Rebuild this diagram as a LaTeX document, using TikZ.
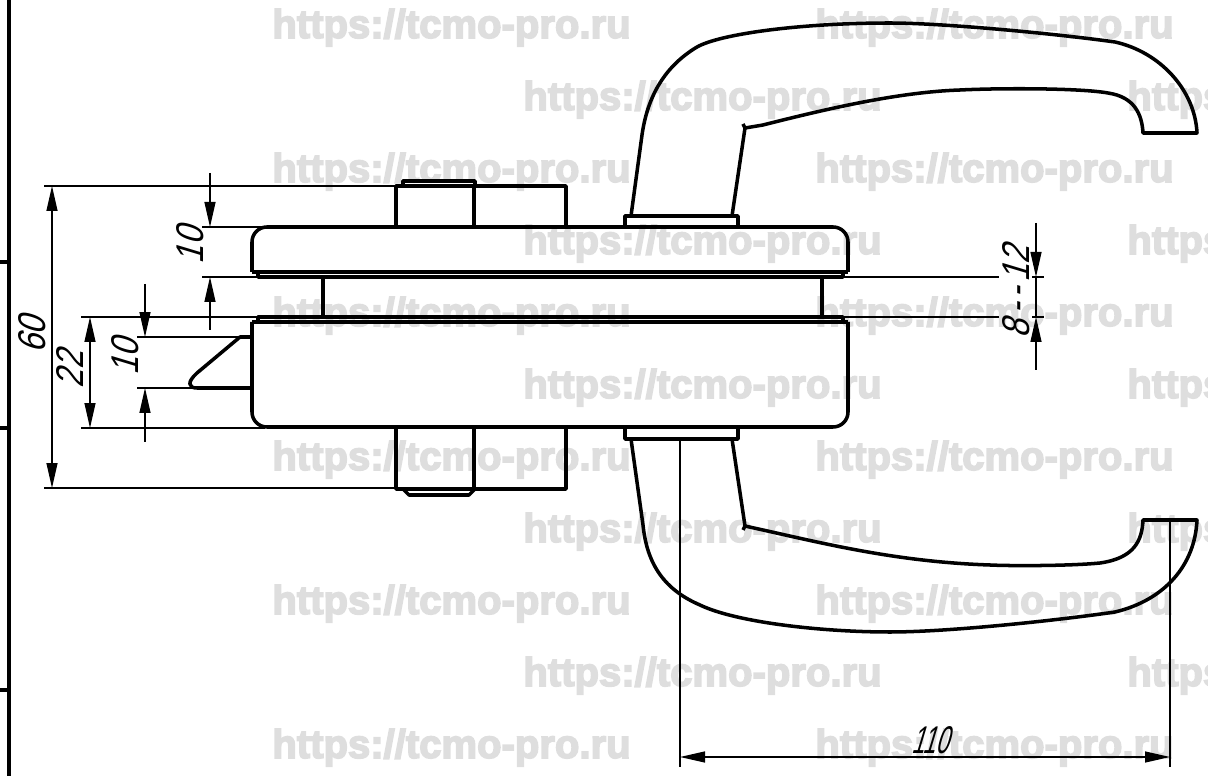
\documentclass[tikz,border=0pt]{standalone}
\usepackage{fontspec}
\usepackage{tikz}
\usetikzlibrary{arrows.meta}
\newfontfamily\dimfont[FakeStretch=0.85,FakeSlant=0.3]{Liberation Sans}
\newfontfamily\narrowfont[FakeStretch=0.6,FakeSlant=0.3]{Liberation Sans}
\newfontfamily\markfont[FakeBold=4]{Liberation Sans}
\definecolor{markgray}{HTML}{DEDEDE}
\begin{document}
\begin{tikzpicture}[
		x=0.02cm,y=-0.02cm,
		>={Stealth[length=5mm,width=2.2mm,inset=0pt]},
		thickline/.style={line width=2pt,line join=round},
		dimline/.style={line width=0.7pt},
		dimtext/.style={inner sep=0pt,font=\dimfont\fontsize{22}{22}\selectfont},
		marktext/.style={anchor=base west,inner sep=0pt,text=markgray,font=\markfont\bfseries\fontsize{22.8}{23}\selectfont}
		]
		\useasboundingbox (0,0) rectangle (1208,776);
		\clip (0,0) rectangle (1208,776);

		% watermark rows
		\foreach \row/\ypos in {1/38,3/182,5/326,7/470,9/614,11/758}{
			\node[marktext] (M\row a) at (272,\ypos) {https://tcmo-pro.ru};
			\node[marktext] (M\row b) at (815,\ypos) {https://tcmo-pro.ru};
		}
		\foreach \row/\ypos in {2/110,4/254,6/398,8/542,10/686}{
			\node[marktext] (M\row a) at (523,\ypos) {https://tcmo-pro.ru};
			\node[marktext] (M\row b) at (1127,\ypos) {https://tcmo-pro.ru};
		}

		% frame
		\draw[thickline] (9,0) -- (9,776);
		\draw[thickline] (0,262) -- (9,262);
		\draw[thickline] (0,428) -- (9,428);
		\draw[thickline] (0,690) -- (9,690);

		% plates
		\draw[thickline,rounded corners=8.5pt] (252,272) -- (252,227) -- (848,227) -- (848,272);
		\draw[thickline] (252,272) -- (848,272);
		\draw[thickline] (258,272) -- (258,277) -- (843,277) -- (843,272);
		\draw[thickline] (323,277) -- (323,317);
		\draw[thickline] (822,277) -- (822,317);
		\draw[thickline] (258,322) -- (258,317) -- (843,317) -- (843,322);
		\draw[thickline] (252,322) -- (848,322);
		\draw[thickline,rounded corners=8.5pt] (252,322) -- (252,427) -- (848,427) -- (848,322);

		% latch
		\draw[thickline] (252,337) -- (240,337) -- (197,373) .. controls (187,382) and (188,388) .. (197,388) -- (252,388);

		% knobs
		\draw[thickline] (396,227) -- (396,186) -- (566,186) -- (566,227);
		\draw[thickline] (474,186) -- (474,227);
		\draw[thickline] (403,186) -- (403,181) -- (475,181) -- (475,186);
		\draw[thickline] (396,427) -- (396,489) -- (566,489) -- (566,427);
		\draw[thickline] (474,427) -- (474,489);
		\draw[thickline] (403,489) -- (409,495) -- (469,495) -- (475,489);

		% flanges
		\draw[thickline] (625,227) -- (625,216) -- (738,216) -- (738,227);
		\draw[thickline] (625,427) -- (625,439) -- (738,439) -- (738,427);

		% upper handle
		\draw[thickline] (631,216) -- (642,135) .. controls (647,100) and (662,68) .. (697,47)
			.. controls (720,34) and (800,23) .. (890,23)
			.. controls (940,23) and (1050,33) .. (1115,42)
			.. controls (1160,52) and (1195,90) .. (1197,133)
			-- (1143,133)
			.. controls (1142,115) and (1135,97) .. (1108,93)
			.. controls (1080,88) and (1000,88) .. (960,90)
			.. controls (900,92) and (830,108) .. (763,125)
			-- (745,128) -- (743,124);
		\draw[thickline] (745,128) -- (732,216);

		% lower handle
		\draw[thickline] (631,439) -- (643,525) .. controls (647,565) and (665,590) .. (700,605)
			.. controls (735,622) and (820,632) .. (890,632)
			.. controls (950,632) and (1060,620) .. (1115,612)
			.. controls (1165,600) and (1195,565) .. (1197,520)
			-- (1143,520)
			.. controls (1142,540) and (1135,558) .. (1100,563)
			.. controls (1070,566) and (1010,566) .. (990,565)
			.. controls (900,562) and (830,545) .. (763,530)
			-- (745,526) -- (743,530);
		\draw[thickline] (745,526) -- (732,439);

		% dimension 60
		\draw[dimline] (44,186) -- (396,186);
		\draw[dimline] (44,488) -- (396,488);
		\draw[dimline,<->] (52,186) -- (52,488);
		\node[dimtext,rotate=90] (D60) at (32,335) {60};

		% dimension 22
		\draw[dimline] (81,317) -- (258,317);
		\draw[dimline] (81,428) -- (265,428);
		\draw[dimline,<->] (90,317) -- (90,428);
		\node[dimtext,rotate=90] (D22) at (70,370) {22};

		% dimension 10 of the latch
		\draw[dimline] (137,337) -- (240,337);
		\draw[dimline] (137,388) -- (197,388);
		\draw[dimline,->] (145,284) -- (145,337);
		\draw[dimline,->] (145,442) -- (145,388);
		\node[dimtext,rotate=90] (Dlatch) at (125,357) {10};

		% dimension 10 of the plate
		\draw[dimline] (202,227) -- (265,227);
		\draw[dimline] (202,277) -- (258,277);
		\draw[dimline,->] (210,173) -- (210,227);
		\draw[dimline,->] (210,330) -- (210,277);
		\node[dimtext,rotate=90] (Dplate) at (190,246) {10};

		% dimension of the gap
		\draw[dimline] (843,277) -- (999,277);
		\draw[dimline] (843,317) -- (999,317);
		\draw[dimline] (1032,277) -- (1044,277);
		\draw[dimline] (1032,317) -- (1044,317);
		\draw[dimline,->] (1036,223) -- (1036,277);
		\draw[dimline,->] (1036,370) -- (1036,317);
		\draw[dimline] (1036,277) -- (1036,317);
		\node[dimtext,rotate=90] (Dgap) at (1016,292) {8\kern3pt-\kern3pt-\kern3pt12};

		% dimension 110
		\draw[dimline] (680,438) -- (680,767);
		\draw[dimline] (1170,520) -- (1170,767);
		\draw[dimline,<->] (680,757) -- (1170,757);
		\node[dimtext,font=\narrowfont\fontsize{22}{22}\selectfont] (Dwidth) at (930,740) {110};
	\end{tikzpicture}
\end{document}
